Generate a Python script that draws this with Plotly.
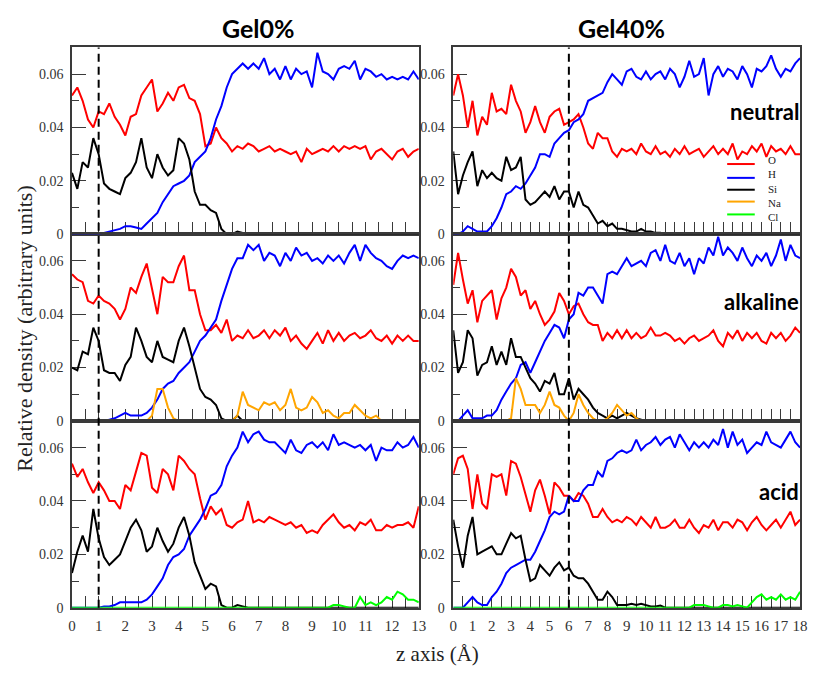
import plotly.graph_objects as go

# ---------------- data ----------------
# z grids (Angstrom)
X_GEL0 = [round(0.2 * i, 1) for i in range(66)]     # 0 .. 13
X_GEL40 = [round(0.25 * i, 2) for i in range(73)]   # 0 .. 18

# ---- Gel0% neutral ----
G0_NEU_O = [
    .052, .055, .050, .043, .040, .046, .045, .049, .044, .041,
    .037, .044, .045, .052, .055, .058, .046, .049, .053, .050,
    .055, .056, .051, .050, .045, .033, .034, .040, .036, .034,
    .031, .033, .032, .034, .033, .031, .032, .033, .031, .032,
    .031, .030, .031, .027, .032, .030, .031, .032, .031, .033,
    .031, .033, .032, .033, .032, .033, .028, .031, .032, .030,
    .028, .031, .032, .029, .031, .032]
G0_NEU_H = [
    0, 0, 0, 0, 0, 0, .0005, .001, .0015, .002,
    .003, .003, .0025, .002, .004, .006, .008, .012, .015, .018,
    .019, .020, .022, .027, .029, .031, .036, .043, .048, .055,
    .060, .062, .064, .062, .064, .062, .066, .060, .062, .058,
    .063, .058, .062, .060, .061, .055, .068, .061, .060, .058,
    .062, .063, .062, .065, .058, .062, .061, .059, .060, .058,
    .059, .058, .059, .058, .061, .058]
G0_NEU_SI = [
    .023, .017, .027, .025, .036, .030, .019, .017, .016, .015,
    .021, .023, .027, .036, .025, .021, .030, .025, .022, .024,
    .036, .034, .028, .016, .011, .011, .009, .008, .002, 0,
    0, .001, .0005, 0, 0, 0, 0, 0, 0, 0,
    0, 0, 0, 0, 0, 0, 0, 0, 0, 0,
    0, 0, 0, 0, 0, 0, 0, 0, 0, 0,
    0, 0, 0, 0, 0, 0]

# ---- Gel0% alkaline ----
G0_ALK_O = [
    .055, .053, .052, .045, .044, .047, .045, .044, .042, .038,
    .042, .050, .048, .054, .059, .049, .040, .054, .052, .052,
    .058, .062, .049, .049, .040, .034, .034, .036, .033, .038,
    .030, .032, .031, .034, .031, .032, .034, .031, .034, .032,
    .035, .030, .032, .029, .027, .030, .033, .029, .034, .030,
    .033, .030, .032, .033, .031, .032, .034, .031, .030, .032,
    .029, .032, .030, .032, .030, .030]
G0_ALK_H = [
    0, 0, 0, 0, 0, 0, 0, .0005, .001, .002,
    .003, .002, .002, .002, .003, .005, .008, .012, .014, .015,
    .018, .020, .022, .026, .030, .032, .035, .038, .045, .051,
    .057, .061, .061, .066, .064, .066, .060, .063, .062, .058,
    .063, .060, .065, .062, .063, .060, .061, .059, .062, .060,
    .062, .059, .063, .066, .060, .066, .063, .061, .060, .058,
    .057, .060, .062, .061, .062, .061]
G0_ALK_SI = [
    .020, .019, .026, .025, .035, .030, .019, .018, .018, .015,
    .021, .024, .035, .030, .024, .022, .030, .024, .023, .022,
    .030, .035, .028, .020, .012, .009, .008, .006, .001, 0,
    0, .002, 0, 0, 0, 0, 0, 0, 0, 0,
    0, 0, 0, 0, 0, 0, 0, 0, 0, 0,
    0, 0, 0, 0, 0, 0, 0, 0, 0, 0,
    0, 0, 0, 0, 0, 0]
G0_ALK_NA = [
    0, 0, 0, 0, 0, 0, 0, 0, 0, 0,
    0, 0, 0, 0, 0, .002, .012, .012, .005, .001,
    0, 0, 0, 0, 0, 0, 0, 0, 0, 0,
    0, .002, .011, .006, .005, .004, .007, .006, .007, .004,
    .006, .012, .005, .004, .005, .009, .007, .003, .004, .002,
    .001, .003, .003, .006, .004, .002, .001, .002, 0, 0,
    0, 0, 0, 0, 0, 0]

# ---- Gel0% acid ----
G0_ACI_O = [
    .054, .049, .052, .047, .043, .047, .044, .040, .040, .037,
    .046, .044, .051, .058, .057, .045, .043, .052, .050, .044,
    .057, .055, .052, .050, .041, .033, .038, .035, .037, .031,
    .030, .032, .033, .040, .032, .033, .032, .034, .033, .032,
    .031, .032, .030, .031, .028, .029, .028, .031, .033, .035,
    .032, .030, .031, .029, .032, .031, .033, .029, .029, .031,
    .030, .031, .031, .032, .030, .038]
G0_ACI_H = [
    0, 0, 0, 0, 0, 0, .0005, .0005, .001, .002,
    .002, .002, .002, .002, .003, .005, .008, .011, .016, .019,
    .020, .022, .027, .030, .033, .037, .042, .043, .046, .053,
    .057, .060, .066, .062, .065, .066, .063, .062, .062, .060,
    .058, .063, .059, .058, .061, .062, .060, .062, .059, .065,
    .061, .062, .061, .060, .061, .059, .061, .055, .060, .059,
    .059, .062, .060, .061, .064, .060]
G0_ACI_SI = [
    .013, .021, .027, .021, .037, .026, .019, .016, .018, .020,
    .025, .030, .033, .029, .021, .023, .030, .025, .021, .024,
    .030, .034, .027, .017, .012, .007, .009, .008, .001, 0,
    0, .001, .0005, 0, 0, 0, 0, 0, 0, 0,
    0, 0, 0, 0, 0, 0, 0, 0, 0, 0,
    0, 0, 0, 0, 0, 0, 0, 0, 0, 0,
    0, 0, 0, 0, 0, 0]
G0_ACI_CL = [
    0, 0, 0, 0, 0, 0, 0, 0, 0, 0,
    0, 0, 0, 0, 0, 0, 0, 0, 0, 0,
    0, 0, 0, 0, 0, 0, 0, 0, 0, 0,
    0, 0, 0, 0, 0, 0, 0, 0, 0, 0,
    0, 0, 0, 0, 0, 0, 0, 0, 0, .001,
    .001, .0005, 0, 0, .004, .001, .002, .001, .002, .004,
    .003, .006, .005, .003, .003, .002]

# ---- Gel40% neutral ----
G40_NEU_O = [
    .052, .060, .052, .040, .050, .037, .044, .041,
    .053, .046, .047, .045, .056, .050, .046, .038,
    .042, .048, .042, .038, .044, .046, .047, .041,
    .042, .043, .045, .040, .034, .032, .038, .036,
    .036, .031, .029, .032, .031, .032, .030, .034,
    .031, .030, .033, .030, .031, .029, .032, .030,
    .033, .030, .031, .032, .029, .031, .033, .030,
    .032, .030, .034, .028, .031, .030, .033, .031,
    .034, .029, .033, .031, .032, .030, .033, .030,
    .030]
G40_NEU_H = [
    0, 0, .001, .003, .002, .001, .001, .001,
    .003, .006, .010, .015, .016, .018, .017, .019,
    .022, .025, .030, .030, .029, .034, .036, .038,
    .039, .042, .043, .045, .050, .051, .052, .053,
    .057, .060, .058, .056, .061, .062, .059, .058,
    .061, .058, .060, .061, .058, .062, .060, .055,
    .059, .065, .059, .060, .066, .052, .060, .063,
    .059, .062, .061, .058, .063, .060, .055, .062,
    .061, .063, .067, .062, .059, .062, .061, .064,
    .066]
G40_NEU_SI = [
    .031, .015, .022, .027, .031, .018, .024, .021,
    .023, .021, .020, .029, .024, .025, .029, .013,
    .011, .012, .014, .016, .014, .018, .013, .016,
    .016, .010, .016, .011, .010, .007, .004, .005,
    .003, .004, .002, .002, .0015, .001, .001, .002,
    .001, .001, .0005, .0005, 0, 0, 0, 0,
    0, 0, 0, 0, 0, 0, 0, 0,
    0, 0, 0, 0, 0, 0, 0, 0,
    0, 0, 0, 0, 0, 0, 0, 0,
    0]

# ---- Gel40% alkaline ----
G40_ALK_O = [
    .051, .063, .053, .044, .049, .037, .045, .047,
    .049, .038, .046, .050, .057, .054, .047, .049,
    .042, .045, .040, .036, .038, .041, .048, .045,
    .040, .043, .044, .040, .037, .036, .036, .030,
    .033, .031, .034, .031, .034, .031, .033, .031,
    .032, .035, .032, .032, .033, .032, .030, .031,
    .029, .031, .032, .030, .031, .032, .034, .030,
    .028, .033, .031, .034, .030, .033, .031, .033,
    .030, .029, .033, .031, .033, .030, .032, .035,
    .033]
G40_ALK_H = [
    0, 0, .002, .004, .001, .001, .001, .002,
    .002, .004, .008, .011, .014, .016, .021, .022,
    .018, .022, .026, .030, .033, .036, .035, .031,
    .038, .040, .048, .047, .050, .050, .047, .044,
    .055, .056, .055, .058, .061, .058, .059, .060,
    .058, .063, .064, .060, .066, .060, .059, .063,
    .058, .061, .055, .061, .059, .065, .062, .069,
    .062, .065, .063, .060, .065, .061, .058, .062,
    .060, .063, .058, .062, .068, .060, .066, .062,
    .061]
G40_ALK_SI = [
    .034, .018, .022, .034, .031, .017, .021, .022,
    .028, .021, .026, .021, .031, .024, .024, .020,
    .016, .014, .011, .015, .014, .018, .010, .010,
    .016, .008, .012, .010, .008, .005, .003, .002,
    .001, .002, .001, .002, .003, .002, .001, .0005,
    0, 0, 0, 0, 0, 0, 0, 0,
    0, 0, 0, 0, 0, 0, 0, 0,
    0, 0, 0, 0, 0, 0, 0, 0,
    0, 0, 0, 0, 0, 0, 0, 0,
    0]
G40_ALK_NA = [
    0, 0, 0, 0, 0, 0, 0, 0,
    0, 0, 0, 0, .001, .016, .012, .006,
    .006, .006, .003, .006, .011, .006, .005, .002,
    0, .003, .010, .006, .003, .001, 0, 0,
    .001, .003, .006, .004, .002, .003, .001, 0,
    0, 0, 0, 0, 0, 0, 0, 0,
    0, 0, 0, 0, 0, 0, 0, 0,
    0, 0, 0, 0, 0, 0, 0, 0,
    0, 0, 0, 0, 0, 0, 0, 0,
    0]

# ---- Gel40% acid ----
G40_ACI_O = [
    .050, .056, .057, .052, .037, .050, .039, .037,
    .050, .049, .050, .042, .055, .054, .049, .042,
    .036, .044, .048, .042, .035, .047, .045, .042,
    .042, .040, .043, .042, .039, .034, .034, .037,
    .034, .032, .033, .032, .034, .033, .031, .034,
    .032, .030, .034, .030, .030, .031, .033, .030,
    .030, .033, .030, .028, .031, .030, .033, .029,
    .032, .032, .030, .033, .032, .029, .032, .034,
    .031, .029, .031, .033, .030, .033, .036, .031,
    .033]
G40_ACI_H = [
    0, 0, 0, .002, .004, .002, .001, .001,
    .004, .006, .009, .013, .015, .016, .017, .018,
    .018, .021, .025, .029, .034, .036, .035, .036,
    .042, .040, .040, .044, .046, .046, .051, .049,
    .055, .056, .058, .059, .058, .059, .063, .059,
    .061, .062, .064, .061, .063, .064, .060, .065,
    .062, .059, .062, .060, .062, .060, .063, .061,
    .067, .060, .066, .061, .063, .058, .060, .062,
    .061, .066, .062, .061, .060, .063, .066, .062,
    .060]
G40_ACI_SI = [
    .033, .023, .015, .027, .034, .020, .021, .022,
    .023, .020, .020, .024, .028, .026, .027, .018,
    .010, .011, .016, .014, .012, .015, .017, .014,
    .015, .012, .011, .011, .009, .006, .003, .003,
    .006, .004, .001, .001, .001, .0015, .001, .0015,
    .001, .0005, .0005, .0008, 0, 0, 0, 0,
    0, 0, 0, 0, 0, 0, 0, 0,
    0, 0, 0, 0, 0, 0, 0, 0,
    0, 0, 0, 0, 0, 0, 0, 0,
    0]
G40_ACI_CL = [
    0, 0, 0, 0, 0, 0, 0, 0,
    0, 0, 0, 0, 0, 0, 0, 0,
    0, 0, 0, 0, 0, 0, 0, 0,
    0, 0, 0, 0, 0, 0, 0, 0,
    0, 0, 0, 0, 0, 0, 0, 0,
    0, 0, 0, 0, 0, 0, 0, 0,
    0, 0, .001, .001, .001, .0005, 0, 0,
    .001, .001, .0005, .001, .0005, 0, .002, .004,
    .005, .003, .004, .003, .005, .003, .004, .003,
    .006]

SPECIES = ["O", "H", "Si", "Na", "Cl"]
COLUMN_TITLES = ["Gel0%", "Gel40%"]
CONDITIONS = ["neutral", "alkaline", "acid"]
INTERFACE_Z = [1, 6]          # dashed interface position per column
X_MAX = [13, 18]
Y_TICKS = [0, 0.02, 0.04, 0.06]

# panel number -> (column, x grid, {species: values})
PANELS = {
    1: (0, X_GEL0, {"O": G0_NEU_O, "H": G0_NEU_H, "Si": G0_NEU_SI}),
    2: (1, X_GEL40, {"O": G40_NEU_O, "H": G40_NEU_H, "Si": G40_NEU_SI}),
    3: (0, X_GEL0, {"O": G0_ALK_O, "H": G0_ALK_H, "Si": G0_ALK_SI, "Na": G0_ALK_NA}),
    4: (1, X_GEL40, {"O": G40_ALK_O, "H": G40_ALK_H, "Si": G40_ALK_SI, "Na": G40_ALK_NA}),
    5: (0, X_GEL0, {"O": G0_ACI_O, "H": G0_ACI_H, "Si": G0_ACI_SI, "Cl": G0_ACI_CL}),
    6: (1, X_GEL40, {"O": G40_ACI_O, "H": G40_ACI_H, "Si": G40_ACI_SI, "Cl": G40_ACI_CL}),
}

# ---------------- styling ----------------
W, H = 813, 675
COLORS = {"O": "#ff0000", "H": "#0000ff", "Si": "#000000", "Na": "#ffa500", "Cl": "#00ff00"}
SERIF = "Liberation Serif, Times New Roman, serif"
SANS_BOLD = "Lato, Open Sans, sans-serif"
AX_COLOR = "#3a3a3a"


def px_x(p):
    return p / W


def px_y(p):
    return 1 - p / H


COL_DOM = [[px_x(69), px_x(421)], [px_x(456), px_x(808)]]
ROW_PIX = [(48, 237), (237, 426), (426, 615)]
ROW_DOM = [[px_y(b), px_y(t)] for t, b in ROW_PIX]

fig = go.Figure()

for p, (col, xs, series) in PANELS.items():
    sfx = "" if p == 1 else str(p)
    for sp in SPECIES:
        if sp in series:
            fig.add_trace(go.Scatter(
                x=xs, y=series[sp], mode="lines", name=sp,
                line=dict(color=COLORS[sp], width=2),
                xaxis="x" + sfx, yaxis="y" + sfx, showlegend=False,
                hoverinfo="skip"))

layout = {}
for p, (col, xs, series) in PANELS.items():
    row = (p - 1) // 2
    sfx = "" if p == 1 else str(p)
    layout["xaxis" + sfx] = dict(
        domain=COL_DOM[col], range=[0, X_MAX[col]], anchor="y" + sfx,
        showline=True, mirror=True, linecolor=AX_COLOR, linewidth=1.5,
        ticks="inside", ticklen=12, tickwidth=1.3, tickcolor=AX_COLOR,
        tick0=0, dtick=1,
        minor=dict(ticks="inside", ticklen=12, tickwidth=1.3, tickcolor=AX_COLOR, dtick=0.5),
        showticklabels=(row == 2), showgrid=False, zeroline=False,
        tickfont=dict(family=SERIF, size=15, color="#333333"),
        ticklabelstandoff=4,
        layer="below traces")
    layout["yaxis" + sfx] = dict(
        domain=ROW_DOM[row], range=[0, 0.07], anchor="x" + sfx,
        showline=True, mirror=True, linecolor=AX_COLOR, linewidth=1.5,
        ticks="inside", ticklen=14, tickwidth=1.3, tickcolor=AX_COLOR,
        tickvals=Y_TICKS, ticktext=["0", "0.02", "0.04", "0.06"],
        minor=dict(ticks="inside", ticklen=7, tickwidth=1.3, tickcolor=AX_COLOR,
                   tickvals=[0.01, 0.03, 0.05]),
        showticklabels=True, showgrid=False, zeroline=False,
        tickfont=dict(family=SERIF, size=14, color="#333333"),
        ticklabelstandoff=4,
        layer="below traces")

shapes = []
for col in range(2):
    xref = "x5" if col == 0 else "x6"
    shapes.append(dict(type="line", xref=xref, yref="paper",
                       x0=INTERFACE_Z[col], x1=INTERFACE_Z[col],
                       y0=ROW_DOM[2][0], y1=ROW_DOM[0][1],
                       line=dict(color="black", width=2, dash="8px,5px")))

annotations = []
for col, t in enumerate(COLUMN_TITLES):
    annotations.append(dict(text="<b>%s</b>" % t, xref="paper", yref="paper",
                            x=px_x([258, 627][col]), y=px_y(28),
                            xanchor="center", yanchor="middle", showarrow=False,
                            font=dict(family=SANS_BOLD, size=25, color="black")))
for row, c in enumerate(CONDITIONS):
    annotations.append(dict(text="<b>%s</b>" % c, xref="paper", yref="paper",
                            x=px_x(809), y=px_y([113, 305, 497][row]),
                            xanchor="right", yanchor="middle", showarrow=False,
                            font=dict(family=SANS_BOLD, size=22, color="black")))

annotations.append(dict(text="Relative density (arbitrary units)", textangle=-90,
                        xref="paper", yref="paper", x=px_x(20), y=px_y(332),
                        xanchor="center", yanchor="middle",
                        showarrow=False, font=dict(family=SERIF, size=22, color="#222")))
annotations.append(dict(text="z axis (Å)", xref="paper", yref="paper",
                        x=px_x(440), y=px_y(662), xanchor="center", yanchor="middle",
                        showarrow=False, font=dict(family=SERIF, size=21, color="#222")))

# legend inside the top-right panel
LEG_LINE_Y = [166, 180, 192, 204, 217]
for sp, ly in zip(SPECIES, LEG_LINE_Y):
    shapes.append(dict(type="line", xref="paper", yref="paper",
                       x0=px_x(734), x1=px_x(762), y0=px_y(ly), y1=px_y(ly),
                       line=dict(color=COLORS[sp], width=2)))
annotations.append(dict(text="<br>".join(SPECIES), xref="paper", yref="paper",
                        x=px_x(773), y=px_y(191), xanchor="left", yanchor="middle",
                        align="left", showarrow=False,
                        font=dict(family=SERIF, size=11, color="#222")))

fig.update_layout(
    **layout,
    shapes=shapes, annotations=annotations,
    width=W, height=H, margin=dict(l=0, r=0, t=0, b=0),
    paper_bgcolor="white", plot_bgcolor="white", showlegend=False)

fig.write_html("out.html")
